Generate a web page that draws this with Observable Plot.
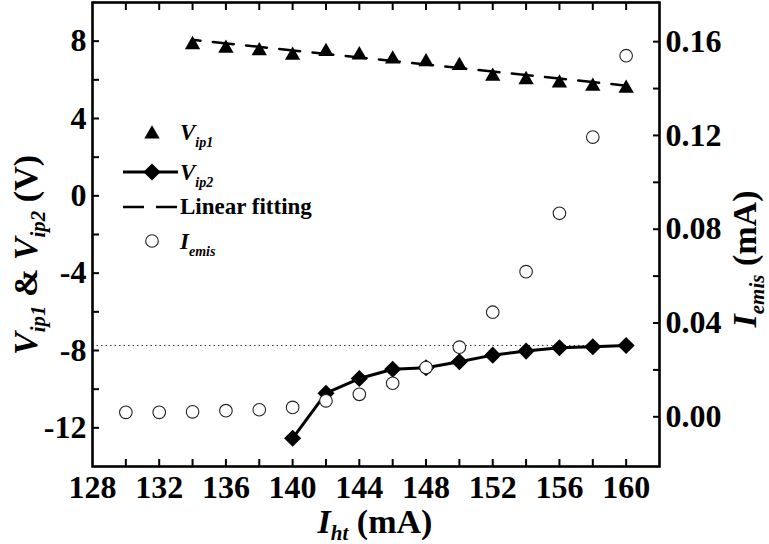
<!DOCTYPE html>
<html>
<head>
<meta charset="utf-8">
<script src="https://cdn.jsdelivr.net/npm/d3@7"></script>
<script src="https://cdn.jsdelivr.net/npm/@observablehq/plot@0.6"></script>
<style>
  body { margin: 0; background: #fff; }
  #chart { position: relative; width: 769px; height: 544px; }
  svg text { white-space: pre; }
</style>
</head>
<body>
<div id="chart"></div>
<script>
// ---- data ----
const vip1X = [134, 136, 138, 140, 142, 144, 146, 148, 150, 152, 154, 156, 158, 160];
const vip1  = [7.92, 7.73, 7.60, 7.37, 7.56, 7.39, 7.18, 7.03, 6.84, 6.28, 6.11, 5.94, 5.77, 5.66];

const vip2X = [140, 142, 144, 146, 148, 150, 152, 154, 156, 158, 160];
const vip2  = [-12.54, -10.21, -9.45, -8.97, -8.89, -8.58, -8.24, -8.03, -7.86, -7.81, -7.74];

const iemisX = [130, 132, 134, 136, 138, 140, 142, 144, 146, 148, 150, 152, 154, 156, 158, 160];
const iemis  = [0.0019, 0.0019, 0.0021, 0.0026, 0.0030, 0.0040, 0.0068, 0.0096, 0.0143, 0.0210, 0.0297, 0.0446, 0.0619, 0.0868, 0.1193, 0.1540];

const refLevel = -7.74;   // dotted reference line level (V)

// ---- ticks ----
const xTicks = [128, 132, 136, 140, 144, 148, 152, 156, 160];
const xMinor = [130, 132, 134, 136, 138, 140, 142, 144, 146, 148, 150, 152, 154, 156, 158, 160];
const vTicks = [-12, -8, -4, 0, 4, 8];
const vMinor = [-12, -10, -8, -6, -4, -2, 0, 2, 4, 6, 8];
const iTicks = [0, 0.04, 0.08, 0.12, 0.16];
const iMinor = [0, 0.02, 0.04, 0.06, 0.08, 0.10, 0.12, 0.14, 0.16];

const xDomain = [128, 162];
const vDomain = [-14, 10];
const iDomain = [-0.0212, 0.1767];

// map right-axis (I) values onto the left (V) scale
const toV = i => vDomain[0] + (i - iDomain[0]) / (iDomain[1] - iDomain[0]) * (vDomain[1] - vDomain[0]);
const fromV = v => iDomain[0] + (v - vDomain[0]) / (vDomain[1] - vDomain[0]) * (iDomain[1] - iDomain[0]);

const d1 = vip1X.map((x, k) => ({x, v: vip1[k]}));
const d2 = vip2X.map((x, k) => ({x, v: vip2[k]}));
const d3i = iemisX.map((x, k) => ({x, i: iemis[k]}));

const FONT = "Times New Roman, Liberation Serif, Tinos, Times, serif";
const TRI_R = 5.7, DIA_R = 7.7, CIR_R = 6.3;
const TICK_FS = 32;

const plot = Plot.plot({
  width: 769,
  height: 544,
  marginLeft: 92,
  marginRight: 110,
  marginTop: 2,
  marginBottom: 78,
  style: {fontFamily: FONT, background: "white", color: "black", overflow: "visible"},
  x: {domain: xDomain},
  y: {domain: vDomain},
  marks: [
    Plot.ruleY([refLevel], {x1: xTicks[0], x2: iemisX[iemisX.length - 1], stroke: "#333", strokeWidth: 1, strokeDasharray: "1.5,3"}),
    Plot.linearRegressionY(d1, {x: "x", y: "v", ci: 0, stroke: "black", strokeWidth: 2.5, strokeDasharray: "21,12.4", strokeDashoffset: 13}),
    Plot.dot(d1, {x: "x", y: "v", symbol: "triangle", r: TRI_R, fill: "black", dy: 2}),
    Plot.line(d2, {x: "x", y: "v", stroke: "black", strokeWidth: 3}),
    Plot.dot(d2, {x: "x", y: "v", symbol: "diamond2", r: DIA_R, fill: "black"}),
    Plot.dot(d3i, {x: "x", y: d => toV(d.i), r: CIR_R, fill: "white", stroke: "#222", strokeWidth: 1.1}),
    Plot.frame({stroke: "black", strokeWidth: 2.6}),
    // bottom axis labels + inward ticks
    Plot.axisX(xTicks, {anchor: "bottom", tickSize: 0, tickPadding: 9, fontSize: TICK_FS, fontWeight: "bold", label: null,
      tickFormat: d => String(d)}),
    Plot.axisX(xMinor, {anchor: "bottom", tickSize: -7, strokeWidth: 2, fill: "none", label: null}),
    Plot.axisX(xMinor, {anchor: "top", tickSize: -7, strokeWidth: 2, fill: "none", label: null}),
    // left axis
    Plot.axisY(vTicks, {anchor: "left", tickSize: 0, tickPadding: 6, fontSize: TICK_FS, fontWeight: "bold", label: null,
      tickFormat: d => String(d)}),
    Plot.axisY(vMinor, {anchor: "left", tickSize: -7, strokeWidth: 2, fill: "none", label: null}),
    // right axis (I_emis)
    Plot.axisY(iTicks.map(toV), {anchor: "right", tickSize: 0, tickPadding: 6, fontSize: TICK_FS, fontWeight: "bold", label: null,
      tickFormat: v => (Math.round(fromV(v) * 100) / 100 + 0).toFixed(2)}),
    Plot.axisY(iMinor.map(toV), {anchor: "right", tickSize: -7, strokeWidth: 2, fill: "none", label: null})
  ]
});

document.getElementById("chart").appendChild(plot);

// ---- titles and legend (text with subscripts) ----
const svg = d3.select(plot);

function richText(g, parts, size, subSize, shift) {
  let cur = 0;
  parts.forEach(p => {
    const ts = g.append("tspan").text(p.t);
    if (p.i) ts.attr("font-style", "italic");
    const want = p.sub ? shift : 0;
    if (want !== cur) { ts.attr("dy", want - cur); cur = want; }
    ts.attr("font-size", p.sub ? subSize : size);
  });
}

// left title
const lt = svg.append("text")
  .attr("transform", "translate(37,255) rotate(-90)")
  .attr("text-anchor", "middle").attr("font-family", FONT).attr("font-weight", "bold").attr("fill", "black");
richText(lt, [{t: "V", i: 1}, {t: "ip1", i: 1, sub: 1}, {t: " & "}, {t: "V", i: 1}, {t: "ip2", i: 1, sub: 1}, {t: " (V)"}], 34, 21, 8);

// right title
const rt = svg.append("text")
  .attr("transform", "translate(756,259) rotate(-90)")
  .attr("text-anchor", "middle").attr("font-family", FONT).attr("font-weight", "bold").attr("fill", "black");
richText(rt, [{t: "I", i: 1}, {t: "emis", i: 1, sub: 1}, {t: " (mA)"}], 34, 21, 8);

// bottom title
const bt = svg.append("text")
  .attr("transform", "translate(375,533)")
  .attr("text-anchor", "middle").attr("font-family", FONT).attr("font-weight", "bold").attr("fill", "black");
richText(bt, [{t: "I", i: 1}, {t: "ht", i: 1, sub: 1}, {t: " (mA)"}], 34, 21, 7);

// legend
const lg = svg.append("g");
const sym = (type, r) => d3.symbol(type, Math.PI * r * r)();
lg.append("path").attr("d", sym(d3.symbolTriangle, TRI_R)).attr("transform", "translate(152,134)").attr("fill", "black");
lg.append("line").attr("x1", 123).attr("x2", 178).attr("y1", 172).attr("y2", 172).attr("stroke", "black").attr("stroke-width", 3);
lg.append("path").attr("d", sym(d3.symbolDiamond2, DIA_R)).attr("transform", "translate(152,172)").attr("fill", "black");
lg.append("line").attr("x1", 123).attr("x2", 178).attr("y1", 207).attr("y2", 207).attr("stroke", "black").attr("stroke-width", 2.5).attr("stroke-dasharray", "21,12");
lg.append("circle").attr("cx", 152).attr("cy", 241).attr("r", CIR_R).attr("fill", "white").attr("stroke", "#222").attr("stroke-width", 1.1);

const legendRows = [
  {y: 140, parts: [{t: "V", i: 1}, {t: "ip1", i: 1, sub: 1}]},
  {y: 180, parts: [{t: "V", i: 1}, {t: "ip2", i: 1, sub: 1}]},
  {y: 214, parts: [{t: "Linear fitting"}]},
  {y: 249, parts: [{t: "I", i: 1}, {t: "emis", i: 1, sub: 1}]}
];
legendRows.forEach(r => {
  const t = lg.append("text").attr("x", 180).attr("y", r.y).attr("text-anchor", "start")
    .attr("font-family", FONT).attr("font-weight", "bold").attr("fill", "black");
  richText(t, r.parts, 23, 14, 7);
});
</script>
</body>
</html>
